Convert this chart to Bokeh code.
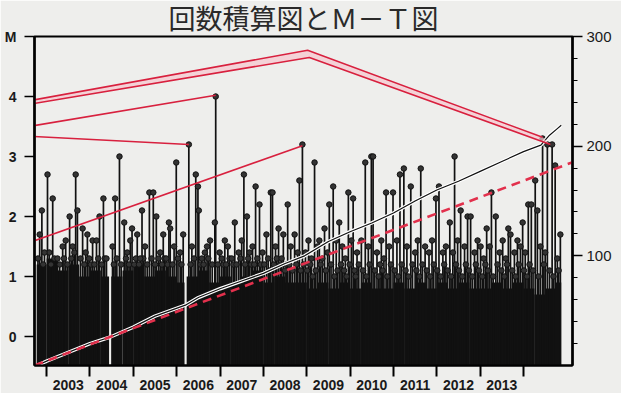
from bokeh.plotting import figure
from bokeh.models import Range1d, LinearAxis, FixedTicker
from bokeh.embed import file_html
from bokeh.resources import INLINE

# ---- data ----
big_year = [2002.84, 2002.89, 2003.02, 2003.14, 2003.37, 2003.44, 2003.53, 2003.67, 2003.71, 2003.83,
            2003.94, 2004.06, 2004.15, 2004.22, 2004.31, 2004.58, 2004.68, 2004.79, 2004.97, 2005.09,
            2005.20, 2005.37, 2005.46, 2005.53, 2005.69, 2005.82, 2005.85, 2005.99, 2006.15, 2006.28,
            2006.44, 2006.49, 2006.51, 2006.70, 2006.88, 2006.90, 2007.11, 2007.34, 2007.55, 2007.62,
            2007.82, 2007.91, 2008.07, 2008.17, 2008.21, 2008.35, 2008.46, 2008.56, 2008.72, 2008.83,
            2008.90, 2009.04, 2009.18, 2009.29, 2009.41, 2009.52, 2009.61, 2009.75, 2009.96, 2010.07,
            2010.35, 2010.49, 2010.53, 2010.83, 2010.99, 2011.15, 2011.24, 2011.40, 2011.63, 2011.98,
            2012.05, 2012.30, 2012.41, 2012.55, 2012.71, 2012.78, 2012.94, 2013.15, 2013.26, 2013.36,
            2013.65, 2013.70, 2013.86, 2013.98, 2014.11, 2014.18, 2014.27, 2014.32, 2014.44, 2014.55,
            2014.66, 2014.73, 2014.85]
big_mag = [1.7, 2.1, 2.7, 2.3, 1.5, 1.6, 2.0, 2.7, 2.1, 1.8,
           1.7, 1.6, 1.6, 2.0, 2.3, 2.3, 3.0, 1.9, 1.8, 1.7,
           2.1, 2.4, 2.4, 2.0, 1.7, 1.9, 1.8, 2.9, 1.7, 3.2,
           2.7, 2.5, 2.1, 1.5, 1.9, 4.0, 1.6, 1.9, 2.7, 2.0,
           2.5, 2.2, 1.7, 2.4, 2.4, 1.8, 1.7, 2.2, 1.7, 2.6,
           3.2, 1.6, 2.9, 1.6, 1.8, 2.2, 2.5, 1.9, 2.4, 2.3,
           2.9, 3.0, 3.0, 2.4, 2.4, 2.7, 2.8, 2.5, 2.8, 2.3,
           2.5, 1.9, 3.0, 2.1, 2.0, 2.0, 1.6, 1.8, 2.4, 2.0,
           1.8, 1.7, 1.6, 1.9, 2.2, 2.2, 2.6, 2.1, 3.3, 3.2,
           3.2, 2.85, 1.7]

mid_year = [2002.95, 2003.25, 2003.60, 2003.78, 2003.90, 2004.38, 2004.52, 2004.86, 2004.93, 2005.16,
            2005.27, 2005.62, 2005.76, 2005.94, 2006.08, 2006.35, 2006.58, 2006.65, 2006.77, 2006.99,
            2007.18, 2007.27, 2007.43, 2007.50, 2007.68, 2007.75, 2007.98, 2008.28, 2008.42, 2008.63,
            2008.79, 2008.97, 2009.11, 2009.25, 2009.36, 2009.48, 2009.68, 2009.82, 2009.89, 2010.03,
            2010.16, 2010.26, 2010.42, 2010.62, 2010.72, 2010.78, 2010.90, 2011.08, 2011.31, 2011.50,
            2011.56, 2011.73, 2011.82, 2011.89, 2012.14, 2012.21, 2012.37, 2012.48, 2012.64, 2012.87,
            2013.01, 2013.08, 2013.22, 2013.45, 2013.52, 2013.59, 2013.79, 2013.93, 2014.04, 2014.39,
            2014.50, 2014.78]
mid_mag = [1.4, 1.3, 1.5, 1.3, 1.4, 1.3, 1.5, 1.4, 1.6, 1.3,
           1.5, 1.4, 1.3, 1.5, 1.4, 1.5, 1.3, 1.4, 1.6, 1.4,
           1.5, 1.3, 1.4, 1.6, 1.4, 1.5, 1.4, 1.5, 1.3, 1.5,
           1.4, 1.4, 1.3, 1.5, 1.3, 1.4, 1.6, 1.5, 1.3, 1.6,
           1.4, 1.6, 1.5, 1.4, 1.6, 1.3, 1.5, 1.6, 1.5, 1.4,
           1.6, 1.5, 1.4, 1.6, 1.4, 1.5, 1.4, 1.6, 1.5, 1.4,
           1.5, 1.3, 1.5, 1.4, 1.6, 1.3, 1.4, 1.5, 1.4, 1.5,
           1.4, 1.3]

low_year = [2002.80, 2002.92, 2003.06, 2003.10, 2003.18, 2003.30, 2003.40, 2003.48, 2003.57, 2003.64,
            2003.87, 2003.98, 2004.02, 2004.10, 2004.19, 2004.27, 2004.34, 2004.55, 2004.62, 2004.72,
            2004.83, 2004.90, 2005.02, 2005.06, 2005.13, 2005.23, 2005.32, 2005.42, 2005.50, 2005.58,
            2005.66, 2005.72, 2005.79, 2005.90, 2006.03, 2006.11, 2006.32, 2006.40, 2006.55, 2006.62,
            2006.73, 2006.82, 2006.95, 2007.04, 2007.08, 2007.14, 2007.22, 2007.31, 2007.38, 2007.47,
            2007.58, 2007.65, 2007.72, 2007.79, 2007.86, 2007.94, 2008.02, 2008.11, 2008.14, 2008.24,
            2008.31, 2008.39, 2008.50, 2008.53, 2008.60, 2008.67, 2008.76, 2008.86, 2008.93, 2009.01,
            2009.08, 2009.14, 2009.21, 2009.32, 2009.44, 2009.56, 2009.64, 2009.71, 2009.79, 2009.86,
            2009.92, 2009.99, 2010.10, 2010.13, 2010.20, 2010.30, 2010.38, 2010.45, 2010.57, 2010.66,
            2010.69, 2010.75, 2010.86, 2010.94, 2011.03, 2011.11, 2011.19, 2011.28, 2011.35, 2011.44,
            2011.53, 2011.60, 2011.67, 2011.77, 2011.85, 2011.93, 2012.01, 2012.09, 2012.17, 2012.25,
            2012.33, 2012.44, 2012.51, 2012.59, 2012.67, 2012.74, 2012.82, 2012.90, 2012.97, 2013.05,
            2013.12, 2013.18, 2013.30, 2013.40, 2013.49, 2013.56, 2013.62, 2013.74, 2013.82, 2013.89,
            2014.01, 2014.08, 2014.14, 2014.22, 2014.35, 2014.47, 2014.60, 2014.69, 2014.81]
low_mag = [1.3, 1.2, 1.4, 1.2, 1.3, 1.2, 1.3, 1.2, 1.3, 1.4,
           1.2, 1.3, 1.2, 1.2, 1.3, 1.2, 1.3, 1.2, 1.3, 1.2,
           1.3, 1.2, 1.2, 1.3, 1.2, 1.3, 1.2, 1.3, 1.2, 1.3,
           1.2, 1.3, 1.2, 1.2, 1.3, 1.2, 1.2, 1.3, 1.2, 1.2,
           1.3, 1.2, 1.2, 1.3, 1.2, 1.2, 1.3, 1.2, 1.2, 1.3,
           1.2, 1.3, 1.2, 1.2, 1.3, 1.2, 1.2, 1.3, 1.1, 1.2,
           1.3, 1.2, 1.1, 1.2, 1.2, 1.1, 1.2, 1.1, 1.2, 1.1,
           1.2, 1.0, 1.1, 1.2, 1.1, 1.2, 1.0, 1.1, 1.2, 1.1,
           1.0, 1.2, 1.1, 1.0, 1.2, 1.1, 1.0, 1.2, 1.1, 1.0,
           1.2, 1.1, 1.0, 1.2, 1.1, 1.0, 1.2, 1.1, 1.0, 1.2,
           1.1, 1.0, 1.2, 1.1, 1.0, 1.2, 1.1, 1.0, 1.2, 1.1,
           1.0, 1.2, 1.1, 1.0, 1.2, 1.1, 1.0, 1.2, 1.1, 1.0,
           1.2, 1.1, 1.0, 1.2, 1.1, 1.0, 1.2, 1.1, 1.0, 1.2,
           1.1, 1.0, 1.2, 1.1, 1.0, 1.2, 1.1, 1.0, 1.1]

# dense low-magnitude events: upper level of the solid mass per period (None = no events)
mass_edges = [2002.77, 2003.0, 2003.25, 2003.5, 2003.75, 2004.0, 2004.25, 2004.44, 2004.49, 2004.75,
              2005.0, 2005.25, 2005.5, 2005.75, 2006.0, 2006.18, 2006.23, 2006.5, 2006.75, 2007.0,
              2007.25, 2007.5, 2007.75, 2008.0, 2008.25, 2008.5, 2008.75, 2009.0, 2009.25, 2009.5,
              2009.75, 2010.0, 2010.25, 2010.5, 2010.75, 2011.0, 2011.25, 2011.5, 2011.75, 2012.0,
              2012.25, 2012.5, 2012.75, 2013.0, 2013.25, 2013.5, 2013.75, 2014.0, 2014.25, 2014.5,
              2014.75, 2014.87]
mass_top = [1.2, 1.3, 1.1, 1.2, 1.0, 1.1, 1.0, None, 1.0, 1.1,
            1.2, 1.0, 1.1, 1.0, 0.9, None, 1.0, 1.1, 0.9, 1.0,
            0.9, 1.0, 1.1, 0.9, 1.0, 0.9, 0.9, 0.8, 0.9, 0.8,
            0.9, 0.8, 0.9, 0.8, 0.8, 0.9, 0.8, 0.9, 0.8, 0.9,
            0.8, 0.9, 0.8, 0.8, 0.9, 0.8, 0.9, 0.8, 0.7, 0.8,
            0.9]

cum_year = [2002.77, 2003.0, 2003.5, 2004.0, 2004.47, 2005.0, 2005.5, 2006.2, 2006.5, 2007.0,
            2007.5, 2008.0, 2008.5, 2008.95, 2009.5, 2010.0, 2010.5, 2011.0, 2011.5, 2012.0,
            2012.5, 2013.0, 2013.5, 2014.0, 2014.4, 2014.6, 2014.78, 2014.87]
cum_count = [0, 4, 12, 20, 26, 35, 45, 55, 62, 70,
             77, 84, 93, 100, 113, 122, 130, 139, 150, 160,
             168, 177, 186, 195, 201, 210, 216, 219]

trend_year = [2002.72, 2015.31]
trend_count = [0, 188]

# hand-drawn red annotation lines (year, M)
annA_up_x = [2001.76, 2009.02, 2014.44]
annA_up_y = [3.82, 4.77, 3.32]
annA_lo_x = [2001.76, 2009.06, 2014.62]
annA_lo_y = [3.77, 4.65, 3.20]
annB_x = [2001.76, 2006.90]
annB_y = [3.40, 4.02]
annC_x = [2001.76, 2006.28]
annC_y = [3.37, 3.20]
annD_x = [2001.76, 2008.90]
annD_y = [1.35, 3.18]

year_ticks = list(range(2003, 2015))
year_labels = [str(y) for y in range(2003, 2014)]
m_ticks = [0, 1, 2, 3, 4, 5]
m_labels = ["0", "1", "2", "3", "4", "M"]
count_ticks = [100, 200, 300]

# ---- figure ----
M_BASE = -0.483
BG = "#eeeeec"
p = figure(width=621, height=393, x_range=Range1d(2002.72, 2015.13), y_range=Range1d(M_BASE, 5.0),
           output_backend="svg", toolbar_location=None,
           min_border_left=34, min_border_right=49, min_border_top=36, min_border_bottom=28,
           title="回数積算図とＭ－Ｔ図")
p.title.align = "center"
p.title.text_font = "'Liberation Sans', 'Noto Sans CJK JP'"
p.title.text_font_size = "27px"
p.title.text_font_style = "normal"
p.title.text_color = "#2a2a2a"
p.title.standoff = 4
p.background_fill_color = BG
p.border_fill_color = BG
p.grid.visible = False
p.outline_line_color = "black"
p.outline_line_width = 2

p.extra_y_ranges = {"count": Range1d(0, 300)}

# solid mass
lefts, rights, tops = [], [], []
for i, t in enumerate(mass_top):
    if t is None:
        continue
    lefts.append(mass_edges[i]); rights.append(mass_edges[i + 1]); tops.append(t)
p.quad(left=lefts, right=rights, bottom=M_BASE, top=tops, fill_color="#111111", line_color=None)

# stems
all_year = low_year + mid_year + big_year
all_mag = low_mag + mid_mag + big_mag
p.segment(x0=all_year, y0=[M_BASE] * len(all_year), x1=all_year, y1=all_mag,
          line_color="#111111", line_width=1.7)
p.scatter(all_year, all_mag, size=5.5, fill_color="#333333", line_color="#111111", line_width=1)

# cumulative count
p.line(cum_year, cum_count, y_range_name="count", line_color="white", line_width=3.5)
p.line(cum_year, cum_count, y_range_name="count", line_color="#111111", line_width=1.2)
p.line(trend_year, trend_count, y_range_name="count", line_color="#e2304c", line_width=2.6,
       line_dash="9 6")

# annotations
p.patch(annA_up_x + annA_lo_x[::-1], annA_up_y + annA_lo_y[::-1], fill_color="#f6c6cf",
        fill_alpha=0.7, line_color=None)
for xs, ys in [(annA_up_x, annA_up_y), (annA_lo_x, annA_lo_y), (annB_x, annB_y),
               (annC_x, annC_y), (annD_x, annD_y)]:
    p.line(xs, ys, line_color="#d8203e", line_width=1.6)

# axes
ax_b = p.xaxis[0]
ax_b.ticker = FixedTicker(ticks=[y + 0.5 for y in range(2003, 2014)], minor_ticks=year_ticks)
ax_b.major_label_overrides = {y + 0.5: lab for y, lab in zip(range(2003, 2014), year_labels)}
ax_b.major_tick_out = 0
ax_b.major_tick_in = 0
ax_b.minor_tick_out = 11
ax_b.minor_tick_in = 0
ax_b.minor_tick_line_width = 2
ax_b.major_label_standoff = 3
ax_b.major_label_text_font = "Liberation Sans"
ax_b.major_label_text_font_size = "14px"
ax_b.major_label_text_font_style = "bold"
ax_b.major_label_text_color = "#1a1a1a"
ax_b.axis_line_width = 2

ax_l = p.yaxis[0]
ax_l.ticker = FixedTicker(ticks=m_ticks, minor_ticks=[])
ax_l.major_label_overrides = {t: lab for t, lab in zip(m_ticks, m_labels)}
ax_l.major_tick_out = 10
ax_l.major_tick_in = 0
ax_l.major_tick_line_width = 1.5
ax_l.major_label_standoff = 8
ax_l.major_label_text_font = "Liberation Sans"
ax_l.major_label_text_font_size = "14px"
ax_l.major_label_text_font_style = "bold"
ax_l.major_label_text_color = "#1a1a1a"
ax_l.axis_line_width = 2.5

ax_r = LinearAxis(y_range_name="count",
                  ticker=FixedTicker(ticks=count_ticks, minor_ticks=list(range(20, 300, 20))))
ax_r.major_tick_out = 10
ax_r.major_tick_in = 0
ax_r.minor_tick_out = 5
ax_r.minor_tick_in = 0
ax_r.major_tick_line_width = 1.5
ax_r.major_label_standoff = 4
ax_r.major_label_text_font = "Liberation Sans"
ax_r.major_label_text_font_size = "15px"
ax_r.major_label_text_color = "#1a1a1a"
ax_r.axis_line_width = 2.5
p.add_layout(ax_r, "right")

open("out.html", "w").write(file_html(p, INLINE))
